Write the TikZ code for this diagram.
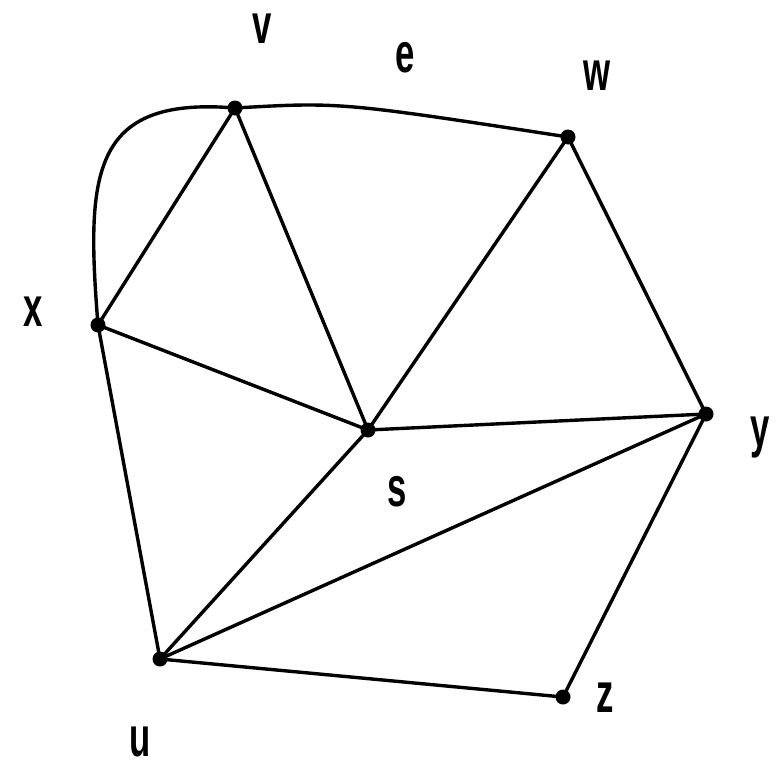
\documentclass[tikz,border=0pt]{standalone}
\usepackage{fontspec}
\usepackage{graphicx}
\setmainfont{Liberation Sans}
\begin{document}
\begin{tikzpicture}[x=1pt,y=-1pt,
  dot/.style={circle,fill=black,inner sep=0pt,minimum size=15pt},
  lbl/.style={inner sep=0pt,font=\fontsize{56}{56}\selectfont\bfseries},
  edge/.style={line width=3.4pt}]
\useasboundingbox (0,0) rectangle (783,768);
\node[dot] (v) at (235,108) {};
\node[dot] (w) at (568,137) {};
\node[dot] (x) at (98,325) {};
\node[dot] (s) at (368,430) {};
\node[dot] (y) at (706,414) {};
\node[dot] (u) at (160,659) {};
\node[dot] (z) at (563,697) {};
\node[lbl,anchor=base] (lv) at (262,44) {\scalebox{0.62}[1]{v}};
\node[lbl] (le) at (405,58) {\scalebox{0.62}[1]{e}};
\node[lbl] (lw) at (597,76) {\scalebox{0.62}[1]{w}};
\node[lbl] (lx) at (33,312) {\scalebox{0.62}[1]{x}};
\node[lbl] (ls) at (397,492) {\scalebox{0.62}[1]{s}};
\node[lbl] (ly) at (760,438) {\scalebox{0.62}[1]{y}};
\node[lbl] (lu) at (140,742) {\scalebox{0.62}[1]{u}};
\node[lbl] (lz) at (605,698) {\scalebox{0.62}[1]{z}};
\draw[edge] (v.center) .. controls (90,96) and (86,175) .. (x.center);
\draw[edge] (v.center) .. controls (340,102) .. (w.center);
\draw[edge] (v.center) -- (x.center);
\draw[edge] (v.center) -- (s.center);
\draw[edge] (x.center) -- (s.center);
\draw[edge] (x.center) -- (u.center);
\draw[edge] (w.center) -- (s.center);
\draw[edge] (w.center) -- (y.center);
\draw[edge] (s.center) -- (y.center);
\draw[edge] (s.center) -- (u.center);
\draw[edge] (u.center) -- (y.center);
\draw[edge] (u.center) -- (z.center);
\draw[edge] (z.center) -- (y.center);
\end{tikzpicture}
\end{document}
